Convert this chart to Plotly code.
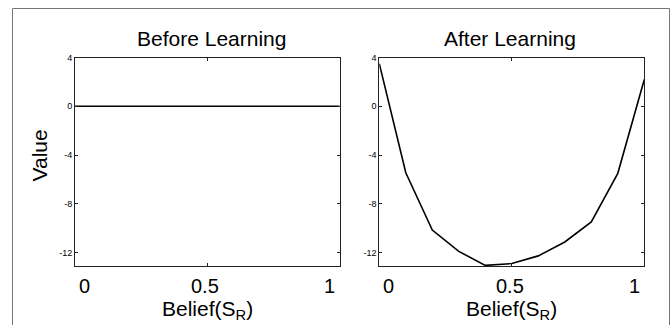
import plotly.graph_objects as go

# ---- data ----
belief = [0.0, 0.1, 0.2, 0.3, 0.4, 0.5, 0.6, 0.7, 0.8, 0.9, 1.0]
value_before = [0, 0, 0, 0, 0, 0, 0, 0, 0, 0, 0]
value_after = [3.5, -5.45, -10.15, -11.9, -13.05, -12.9, -12.27, -11.13, -9.48, -5.5, 2.2]
panel_titles = ["Before Learning", "After Learning"]
x_tickvals = [0, 0.5, 1]
x_ticktext = ["0", "0.5", "1"]
y_tickvals = [4, 0, -4, -8, -12]
y_ticktext = ["4", "0", "-4", "-8", "-12"]
x_label = "Belief(S<sub>R</sub>)"
y_label = "Value"

W, H = 672, 325


def px(x):
    return x / W


def py(y):
    return 1 - y / H


FONT = "Liberation Sans, Arial, sans-serif"
AXC = "#222222"

fig = go.Figure()
fig.add_trace(go.Scatter(x=belief, y=value_before, mode="lines",
                         line=dict(color="black", width=1.6), xaxis="x", yaxis="y",
                         showlegend=False, hoverinfo="skip"))
fig.add_trace(go.Scatter(x=belief, y=value_after, mode="lines",
                         line=dict(color="black", width=1.6), xaxis="x2", yaxis="y2",
                         showlegend=False, hoverinfo="skip"))

xdoms = [[px(75), px(339.5)], [px(379.3), px(644.3)]]
ydom = [py(266), py(57.5)]

common_x = dict(range=[0, 1], tickvals=x_tickvals, showticklabels=False,
                ticks="inside", ticklen=3, tickcolor=AXC, showline=True,
                linecolor=AXC, linewidth=1, mirror="ticks", showgrid=False,
                zeroline=False, fixedrange=True)
common_y = dict(range=[-13.1, 4], tickvals=y_tickvals, ticktext=y_ticktext,
                ticks="inside", ticklen=3, tickcolor=AXC, showline=True,
                linecolor=AXC, linewidth=1, mirror="ticks", showgrid=False,
                zeroline=False, tickfont=dict(family=FONT, size=9, color="black"),
                domain=ydom, fixedrange=True, automargin=False)

fig.update_layout(
    width=W, height=H,
    margin=dict(l=0, r=0, t=0, b=0, autoexpand=False),
    paper_bgcolor="white", plot_bgcolor="white",
    xaxis=dict(domain=xdoms[0], anchor="y", **common_x),
    yaxis=dict(anchor="x", **common_y),
    xaxis2=dict(domain=xdoms[1], anchor="y2", **common_x),
    yaxis2=dict(anchor="x2", **common_y),
)

annotations = []
label_shift = {0: 9, 0.5: -2, 1: -10}
title_cx = [211, 510]
for i, (xa, title) in enumerate(zip(["x", "x2"], panel_titles)):
    d = xdoms[i]
    cx = (d[0] + d[1]) / 2
    annotations.append(dict(text=title, xref="paper", yref="paper", x=px(title_cx[i]), y=py(38.4),
                            xanchor="center", yanchor="middle", showarrow=False,
                            font=dict(family=FONT, size=21, color="black")))
    for tv, tt in zip(x_tickvals, x_ticktext):
        annotations.append(dict(text=tt, xref=xa, yref="paper", x=tv, y=py(286.1),
                                xanchor="center", yanchor="middle", showarrow=False,
                                xshift=label_shift[tv],
                                font=dict(family=FONT, size=20, color="black")))
    annotations.append(dict(text=x_label, xref="paper", yref="paper", x=cx, y=py(295),
                            xanchor="center", yanchor="top", showarrow=False,
                            font=dict(family=FONT, size=21, color="black")))

annotations.append(dict(text=y_label, xref="paper", yref="paper", x=px(39), y=py(155.5),
                        xanchor="center", yanchor="middle", showarrow=False, textangle=-90,
                        font=dict(family=FONT, size=21, color="black")))
fig.update_layout(annotations=annotations)

# outer frame (its bottom edge runs below the picture)
fig.add_shape(type="rect", xref="paper", yref="paper",
              x0=px(12.5), x1=px(669.5), y0=-0.05, y1=py(8.5),
              line=dict(color="#777777", width=1), fillcolor="rgba(0,0,0,0)", layer="below")

fig.write_html("out.html",
               config={"displayModeBar": False, "staticPlot": True},
               post_script="document.body.style.margin='0';document.body.style.overflow='hidden';")
